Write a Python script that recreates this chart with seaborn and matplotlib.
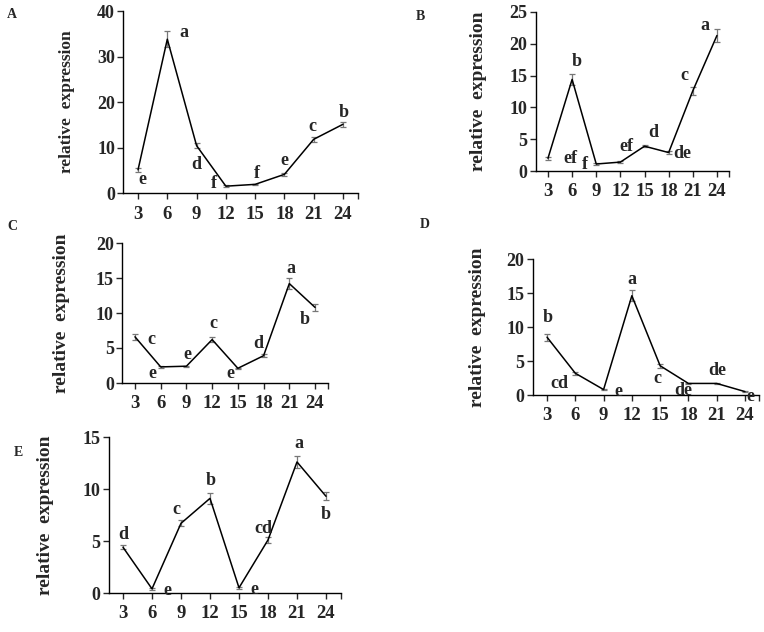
import numpy as np
import pandas as pd
import matplotlib
matplotlib.use("Agg")
import matplotlib.pyplot as plt
import seaborn as sns

# ----------------------------
# data
# ----------------------------
times = [3, 6, 9, 12, 15, 18, 21, 24]
panels = ["A", "B", "C", "D", "E"]

expr_A = [5.1, 33.8, 10.4, 1.5, 1.9, 4.1, 11.8, 15.1]
err_A = [0.4, 1.8, 0.5, 0.15, 0.15, 0.3, 0.5, 0.6]
sig_A = ["e", "a", "d", "f", "f", "e", "c", "b"]

expr_B = [2.0, 14.4, 1.1, 1.4, 3.9, 2.9, 12.6, 21.3]
err_B = [0.2, 0.8, 0.1, 0.1, 0.2, 0.2, 0.6, 1.0]
sig_B = ["ef", "b", "f", "ef", "d", "de", "c", "a"]

expr_C = [6.6, 2.3, 2.4, 6.2, 2.1, 3.9, 14.2, 10.8]
err_C = [0.4, 0.1, 0.1, 0.4, 0.1, 0.2, 0.8, 0.5]
sig_C = ["c", "e", "e", "c", "e", "d", "a", "b"]

expr_D = [8.5, 3.2, 0.8, 14.6, 4.3, 1.7, 1.7, 0.5]
err_D = [0.5, 0.2, 0.1, 0.8, 0.3, 0.1, 0.1, 0.1]
sig_D = ["b", "cd", "e", "a", "c", "de", "de", "e"]

expr_E = [4.4, 0.4, 6.7, 9.1, 0.5, 5.1, 12.6, 9.3]
err_E = [0.2, 0.1, 0.3, 0.5, 0.1, 0.3, 0.6, 0.4]
sig_E = ["d", "e", "c", "b", "e", "cd", "a", "b"]

y_max = {"A": 40, "B": 25, "C": 20, "D": 20, "E": 15}

# ----------------------------
# layout (pixels of a 764x632 canvas)
# ----------------------------
W, H = 764, 632
# left, right, top, bottom of each axes in px
rects_px = {
    "A": (123.4, 357.6, 11, 193),
    "B": (535.9, 729.0, 12, 171),
    "C": (122.1, 327.9, 243, 383),
    "D": (532.9, 759.1, 259, 395),
    "E": (108.5, 340.5, 437, 593),
}
ylabel_dist = {"A": 48, "B": 49, "C": 52, "D": 47, "E": 55}
ylabel_size = {"A": 12.5, "B": 14, "C": 14, "D": 14, "E": 14}
panel_lbl_pos = {"A": (12, 15), "B": (420, 16), "C": (12, 227), "D": (425, 225), "E": (18, 453)}

# letter offsets in points (dx, dy)
offs = {
    "A": [(3.1, -7.2), (12.2, 4.8), (-0.5, -13.4), (-8.4, 1.7), (1.2, 7.9), (0, 10.3), (-1.2, 9.1), (0.5, 8.6)],
    "B": [(16.1, 0), (3.1, 13.0), (-7.9, -0.7), (4.3, 11), (6, 9.8), (10.1, -0.5), (-6, 10.8), (-8.9, 7)],
    "C": [(12, -1.7), (-5.8, -5), (0.5, 8.2), (1.2, 11.3), (-5.3, -3.8), (-3.6, 9.1), (1.2, 10.8), (-7.2, -8.6)],
    "D": [(0.7, 14.4), (-11.3, -7.2), (11, -1.4), (0, 11.5), (-1.7, -9.1), (-3.6, -4.8), (0.5, 9.1), (4.1, -3.6)],
    "E": [(0.5, 9.1), (11.3, -1), (-3.6, 10.3), (0.5, 12.7), (11.3, -1.4), (-3.1, 8.6), (1.2, 13.2), (0, -13.2)],
}

data = {
    "A": (expr_A, err_A, sig_A),
    "B": (expr_B, err_B, sig_B),
    "C": (expr_C, err_C, sig_C),
    "D": (expr_D, err_D, sig_D),
    "E": (expr_E, err_E, sig_E),
}

sns.set_style("ticks")
plt.rcParams['font.family'] = ['Liberation Serif', 'DejaVu Serif']
plt.rcParams['font.weight'] = 'bold'
plt.rcParams['axes.labelweight'] = 'bold'

fig = plt.figure(figsize=(W / 100, H / 100), dpi=100)

for p in panels:
    l, r, t, b = rects_px[p]
    ax = fig.add_axes([l / W, 1 - b / H, (r - l) / W, (b - t) / H])
    expr, err, sig = data[p]
    df = pd.DataFrame({"time": times, "expr": expr})

    ax.errorbar(times, expr, yerr=err, fmt="none", ecolor="#777777",
                elinewidth=0.9, capsize=2.5, capthick=0.9, zorder=2)
    sns.lineplot(data=df, x="time", y="expr", ax=ax, color="black",
                 linewidth=1.1, zorder=3)

    for x, y, s, (dx, dy) in zip(times, expr, sig, offs[p]):
        ax.annotate(s, (x, y), xytext=(dx, dy), textcoords="offset points",
                    ha="center", va="center", fontsize=13, fontweight="bold")

    ax.set_xlim(1.5, 25.5)
    ax.set_ylim(0, y_max[p])
    ax.set_xticks(times)
    ax.set_xticks([25.5], minor=True)
    ax.set_yticks(np.arange(0, y_max[p] + 1, 5 if y_max[p] <= 25 else 10))
    ax.tick_params(axis="x", which="both", length=4, width=1, labelsize=13.5, pad=5)
    ax.tick_params(axis="y", length=4, width=1, labelsize=13, pad=2)
    for lab in ax.get_xticklabels() + ax.get_yticklabels():
        lab.set_fontweight("bold")
    sns.despine(ax=ax)
    for sp in ["left", "bottom"]:
        ax.spines[sp].set_linewidth(1.0)
        ax.spines[sp].set_color("black")

    ax.set_xlabel("")
    ax.set_ylabel("relative  expression", fontsize=ylabel_size[p], fontweight="bold")
    ax.yaxis.set_label_coords(-ylabel_dist[p] / (r - l), 0.5)

    px, py = panel_lbl_pos[p]
    fig.text(px / W, 1 - py / H, p, ha="center", va="center", fontsize=10, fontweight="bold")

fig.savefig("out.png", dpi=100)
